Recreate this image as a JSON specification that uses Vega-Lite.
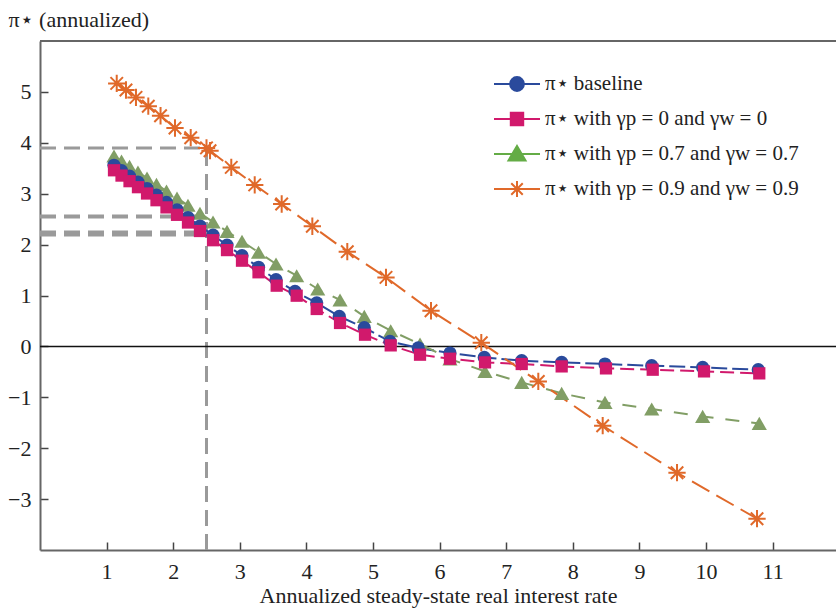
{
  "$schema": "https://vega.github.io/schema/vega-lite/v6.json",
  "width": 796,
  "height": 509,
  "autosize": {"type": "none"},
  "padding": {"left": 40, "top": 41, "right": 0, "bottom": 59},
  "background": "white",
  "config": {
    "view": {"stroke": null},
    "font": "Liberation Serif, Times New Roman, serif",
    "axis": {
      "grid": false,
      "domainColor": "#666666",
      "domainWidth": 2,
      "tickColor": "#444444",
      "tickWidth": 1.5,
      "tickSize": -8,
      "labelFont": "Liberation Serif, Times New Roman, serif",
      "labelFontSize": 22,
      "labelColor": "#222222",
      "titleFont": "Liberation Serif, Times New Roman, serif",
      "titleFontSize": 22,
      "titleFontWeight": "normal",
      "titleColor": "#222222"
    }
  },
  "datasets": {
    "curves": [
      {"series": "π⋆ baseline", "x": 1.111, "y": 3.558},
      {"series": "π⋆ baseline", "x": 1.224, "y": 3.454},
      {"series": "π⋆ baseline", "x": 1.344, "y": 3.344},
      {"series": "π⋆ baseline", "x": 1.471, "y": 3.226},
      {"series": "π⋆ baseline", "x": 1.607, "y": 3.102},
      {"series": "π⋆ baseline", "x": 1.749, "y": 2.971},
      {"series": "π⋆ baseline", "x": 1.899, "y": 2.829},
      {"series": "π⋆ baseline", "x": 2.057, "y": 2.684},
      {"series": "π⋆ baseline", "x": 2.222, "y": 2.532},
      {"series": "π⋆ baseline", "x": 2.402, "y": 2.365},
      {"series": "π⋆ baseline", "x": 2.598, "y": 2.185},
      {"series": "π⋆ baseline", "x": 2.808, "y": 1.99},
      {"series": "π⋆ baseline", "x": 3.033, "y": 1.782},
      {"series": "π⋆ baseline", "x": 3.281, "y": 1.554},
      {"series": "π⋆ baseline", "x": 3.544, "y": 1.31},
      {"series": "π⋆ baseline", "x": 3.829, "y": 1.081},
      {"series": "π⋆ baseline", "x": 4.155, "y": 0.853},
      {"series": "π⋆ baseline", "x": 4.494, "y": 0.589},
      {"series": "π⋆ baseline", "x": 4.869, "y": 0.367},
      {"series": "π⋆ baseline", "x": 5.255, "y": 0.098},
      {"series": "π⋆ baseline", "x": 5.68, "y": -0.03},
      {"series": "π⋆ baseline", "x": 6.156, "y": -0.13},
      {"series": "π⋆ baseline", "x": 6.671, "y": -0.216},
      {"series": "π⋆ baseline", "x": 7.233, "y": -0.281},
      {"series": "π⋆ baseline", "x": 7.833, "y": -0.314},
      {"series": "π⋆ baseline", "x": 8.483, "y": -0.346},
      {"series": "π⋆ baseline", "x": 9.185, "y": -0.379},
      {"series": "π⋆ baseline", "x": 9.95, "y": -0.413},
      {"series": "π⋆ baseline", "x": 10.785, "y": -0.458},
      {"series": "π⋆ with γp = 0 and γw = 0", "x": 1.111, "y": 3.46},
      {"series": "π⋆ with γp = 0 and γw = 0", "x": 1.224, "y": 3.356},
      {"series": "π⋆ with γp = 0 and γw = 0", "x": 1.344, "y": 3.246},
      {"series": "π⋆ with γp = 0 and γw = 0", "x": 1.471, "y": 3.128},
      {"series": "π⋆ with γp = 0 and γw = 0", "x": 1.607, "y": 3.004},
      {"series": "π⋆ with γp = 0 and γw = 0", "x": 1.749, "y": 2.872},
      {"series": "π⋆ with γp = 0 and γw = 0", "x": 1.899, "y": 2.731},
      {"series": "π⋆ with γp = 0 and γw = 0", "x": 2.057, "y": 2.585},
      {"series": "π⋆ with γp = 0 and γw = 0", "x": 2.222, "y": 2.434},
      {"series": "π⋆ with γp = 0 and γw = 0", "x": 2.402, "y": 2.267},
      {"series": "π⋆ with γp = 0 and γw = 0", "x": 2.598, "y": 2.086},
      {"series": "π⋆ with γp = 0 and γw = 0", "x": 2.808, "y": 1.892},
      {"series": "π⋆ with γp = 0 and γw = 0", "x": 3.033, "y": 1.684},
      {"series": "π⋆ with γp = 0 and γw = 0", "x": 3.281, "y": 1.456},
      {"series": "π⋆ with γp = 0 and γw = 0", "x": 3.554, "y": 1.193},
      {"series": "π⋆ with γp = 0 and γw = 0", "x": 3.854, "y": 0.996},
      {"series": "π⋆ with γp = 0 and γw = 0", "x": 4.155, "y": 0.735},
      {"series": "π⋆ with γp = 0 and γw = 0", "x": 4.505, "y": 0.46},
      {"series": "π⋆ with γp = 0 and γw = 0", "x": 4.88, "y": 0.23},
      {"series": "π⋆ with γp = 0 and γw = 0", "x": 5.266, "y": 0.02},
      {"series": "π⋆ with γp = 0 and γw = 0", "x": 5.706, "y": -0.163},
      {"series": "π⋆ with γp = 0 and γw = 0", "x": 6.156, "y": -0.242},
      {"series": "π⋆ with γp = 0 and γw = 0", "x": 6.682, "y": -0.314},
      {"series": "π⋆ with γp = 0 and γw = 0", "x": 7.233, "y": -0.346},
      {"series": "π⋆ with γp = 0 and γw = 0", "x": 7.833, "y": -0.393},
      {"series": "π⋆ with γp = 0 and γw = 0", "x": 8.498, "y": -0.432},
      {"series": "π⋆ with γp = 0 and γw = 0", "x": 9.2, "y": -0.458},
      {"series": "π⋆ with γp = 0 and γw = 0", "x": 9.97, "y": -0.491},
      {"series": "π⋆ with γp = 0 and γw = 0", "x": 10.8, "y": -0.53},
      {"series": "π⋆ with γp = 0.7 and γw = 0.7", "x": 1.111, "y": 3.741},
      {"series": "π⋆ with γp = 0.7 and γw = 0.7", "x": 1.224, "y": 3.642},
      {"series": "π⋆ with γp = 0.7 and γw = 0.7", "x": 1.344, "y": 3.537},
      {"series": "π⋆ with γp = 0.7 and γw = 0.7", "x": 1.471, "y": 3.426},
      {"series": "π⋆ with γp = 0.7 and γw = 0.7", "x": 1.607, "y": 3.308},
      {"series": "π⋆ with γp = 0.7 and γw = 0.7", "x": 1.749, "y": 3.184},
      {"series": "π⋆ with γp = 0.7 and γw = 0.7", "x": 1.899, "y": 3.053},
      {"series": "π⋆ with γp = 0.7 and γw = 0.7", "x": 2.057, "y": 2.916},
      {"series": "π⋆ with γp = 0.7 and γw = 0.7", "x": 2.222, "y": 2.772},
      {"series": "π⋆ with γp = 0.7 and γw = 0.7", "x": 2.402, "y": 2.615},
      {"series": "π⋆ with γp = 0.7 and γw = 0.7", "x": 2.598, "y": 2.444},
      {"series": "π⋆ with γp = 0.7 and γw = 0.7", "x": 2.808, "y": 2.261},
      {"series": "π⋆ with γp = 0.7 and γw = 0.7", "x": 3.033, "y": 2.065},
      {"series": "π⋆ with γp = 0.7 and γw = 0.7", "x": 3.281, "y": 1.849},
      {"series": "π⋆ with γp = 0.7 and γw = 0.7", "x": 3.544, "y": 1.619},
      {"series": "π⋆ with γp = 0.7 and γw = 0.7", "x": 3.854, "y": 1.389},
      {"series": "π⋆ with γp = 0.7 and γw = 0.7", "x": 4.17, "y": 1.128},
      {"series": "π⋆ with γp = 0.7 and γw = 0.7", "x": 4.505, "y": 0.912},
      {"series": "π⋆ with γp = 0.7 and γw = 0.7", "x": 4.869, "y": 0.589},
      {"series": "π⋆ with γp = 0.7 and γw = 0.7", "x": 5.266, "y": 0.308},
      {"series": "π⋆ with γp = 0.7 and γw = 0.7", "x": 5.706, "y": 0.047},
      {"series": "π⋆ with γp = 0.7 and γw = 0.7", "x": 6.156, "y": -0.248},
      {"series": "π⋆ with γp = 0.7 and γw = 0.7", "x": 6.682, "y": -0.491},
      {"series": "π⋆ with γp = 0.7 and γw = 0.7", "x": 7.233, "y": -0.707},
      {"series": "π⋆ with γp = 0.7 and γw = 0.7", "x": 7.833, "y": -0.923},
      {"series": "π⋆ with γp = 0.7 and γw = 0.7", "x": 8.483, "y": -1.1},
      {"series": "π⋆ with γp = 0.7 and γw = 0.7", "x": 9.185, "y": -1.23},
      {"series": "π⋆ with γp = 0.7 and γw = 0.7", "x": 9.95, "y": -1.375},
      {"series": "π⋆ with γp = 0.7 and γw = 0.7", "x": 10.8, "y": -1.513},
      {"series": "π⋆ with γp = 0.9 and γw = 0.9", "x": 1.152, "y": 5.167},
      {"series": "π⋆ with γp = 0.9 and γw = 0.9", "x": 1.291, "y": 5.037},
      {"series": "π⋆ with γp = 0.9 and γw = 0.9", "x": 1.441, "y": 4.892},
      {"series": "π⋆ with γp = 0.9 and γw = 0.9", "x": 1.626, "y": 4.719},
      {"series": "π⋆ with γp = 0.9 and γw = 0.9", "x": 1.81, "y": 4.532},
      {"series": "π⋆ with γp = 0.9 and γw = 0.9", "x": 2.027, "y": 4.291},
      {"series": "π⋆ with γp = 0.9 and γw = 0.9", "x": 2.263, "y": 4.1},
      {"series": "π⋆ with γp = 0.9 and γw = 0.9", "x": 2.5, "y": 3.9},
      {"series": "π⋆ with γp = 0.9 and γw = 0.9", "x": 2.553, "y": 3.845},
      {"series": "π⋆ with γp = 0.9 and γw = 0.9", "x": 2.872, "y": 3.517},
      {"series": "π⋆ with γp = 0.9 and γw = 0.9", "x": 3.224, "y": 3.173},
      {"series": "π⋆ with γp = 0.9 and γw = 0.9", "x": 3.629, "y": 2.798},
      {"series": "π⋆ with γp = 0.9 and γw = 0.9", "x": 4.089, "y": 2.361},
      {"series": "π⋆ with γp = 0.9 and γw = 0.9", "x": 4.614, "y": 1.861},
      {"series": "π⋆ with γp = 0.9 and γw = 0.9", "x": 5.195, "y": 1.356},
      {"series": "π⋆ with γp = 0.9 and γw = 0.9", "x": 5.871, "y": 0.701},
      {"series": "π⋆ with γp = 0.9 and γw = 0.9", "x": 6.626, "y": 0.073},
      {"series": "π⋆ with γp = 0.9 and γw = 0.9", "x": 7.482, "y": -0.688},
      {"series": "π⋆ with γp = 0.9 and γw = 0.9", "x": 8.449, "y": -1.558},
      {"series": "π⋆ with γp = 0.9 and γw = 0.9", "x": 9.565, "y": -2.481},
      {"series": "π⋆ with γp = 0.9 and γw = 0.9", "x": 10.766, "y": -3.385}
    ],
    "guides": [
      {"guide": "vertical", "x_from": 2.5, "x_to": 2.5, "y_from": -4, "y_to": 3.9},
      {"guide": "g09", "x_from": 0, "x_to": 2.5, "y_from": 3.9, "y_to": 3.9},
      {"guide": "g07", "x_from": 0, "x_to": 2.5, "y_from": 2.55, "y_to": 2.55},
      {"guide": "base", "x_from": 0, "x_to": 2.5, "y_from": 2.22, "y_to": 2.22}
    ],
    "frame": [{"edge": "top", "y": 6}, {"edge": "zero", "y": 0}]
  },
  "layer": [
    {
      "data": {"name": "frame"},
      "transform": [{"filter": "datum.edge == 'top'"}],
      "mark": {"type": "rule", "color": "#666666", "strokeWidth": 2},
      "encoding": {"y": {"field": "y", "type": "quantitative", "scale": {"domain": [-4, 6], "nice": false, "zero": false}}}
    },
    {
      "data": {"name": "guides"},
      "transform": [{"filter": "datum.guide == 'vertical' || datum.guide == 'g09'"}],
      "mark": {"type": "rule", "color": "#9a9a9a", "strokeWidth": 3, "strokeDash": [16, 8]},
      "encoding": {
        "x": {"field": "x_from", "type": "quantitative"},
        "x2": {"field": "x_to"},
        "y": {"field": "y_from", "type": "quantitative"},
        "y2": {"field": "y_to"}
      }
    },
    {
      "data": {"name": "guides"},
      "transform": [{"filter": "datum.guide == 'g07'"}],
      "mark": {"type": "rule", "color": "#9a9a9a", "strokeWidth": 4, "strokeDash": [16, 8]},
      "encoding": {
        "x": {"field": "x_from", "type": "quantitative"},
        "x2": {"field": "x_to"},
        "y": {"field": "y_from", "type": "quantitative"},
        "y2": {"field": "y_to"}
      }
    },
    {
      "data": {"name": "guides"},
      "transform": [{"filter": "datum.guide == 'base'"}],
      "mark": {"type": "rule", "color": "#9a9a9a", "strokeWidth": 6, "strokeDash": [16, 8]},
      "encoding": {
        "x": {"field": "x_from", "type": "quantitative"},
        "x2": {"field": "x_to"},
        "y": {"field": "y_from", "type": "quantitative"},
        "y2": {"field": "y_to"}
      }
    },
    {
      "data": {"name": "frame"},
      "transform": [{"filter": "datum.edge == 'zero'"}],
      "mark": {"type": "rule", "color": "#111111", "strokeWidth": 1.5},
      "encoding": {"y": {"field": "y", "type": "quantitative"}}
    },
    {
      "data": {"name": "curves"},
      "transform": [{"filter": "datum.series == 'π⋆ baseline'"}],
      "mark": {"type": "line", "color": "#2A4A9C", "strokeWidth": 2, "strokeDash": [16, 5]},
      "encoding": {
        "x": {
          "field": "x", "type": "quantitative",
          "scale": {"domain": [0, 11.952], "nice": false, "zero": false},
          "axis": {
            "values": [1, 2, 3, 4, 5, 6, 7, 8, 9, 10, 11],
            "format": "d",
            "title": "Annualized steady-state real interest rate",
            "labelPadding": 19,
            "titlePadding": 3
          }
        },
        "y": {
          "field": "y", "type": "quantitative",
          "axis": {
            "values": [-3, -2, -1, 0, 1, 2, 3, 4, 5],
            "format": "d",
            "title": "π⋆ (annualized)",
            "titleAngle": 0,
            "titleAlign": "left",
            "titleBaseline": "middle",
            "titleX": -32,
            "titleY": -22,
            "labelPadding": 17
          }
        },
        "order": {"field": "x", "type": "quantitative"}
      }
    },
    {
      "data": {"name": "curves"},
      "transform": [{"filter": "datum.series == 'π⋆ with γp = 0 and γw = 0'"}],
      "mark": {"type": "line", "color": "#D1196C", "strokeWidth": 2, "strokeDash": [14, 6]},
      "encoding": {
        "x": {"field": "x", "type": "quantitative"},
        "y": {"field": "y", "type": "quantitative"},
        "order": {"field": "x", "type": "quantitative"}
      }
    },
    {
      "data": {"name": "curves"},
      "transform": [{"filter": "datum.series == 'π⋆ with γp = 0.7 and γw = 0.7'"}],
      "mark": {"type": "line", "color": "#819E65", "strokeWidth": 2, "strokeDash": [14, 12]},
      "encoding": {
        "x": {"field": "x", "type": "quantitative"},
        "y": {"field": "y", "type": "quantitative"},
        "order": {"field": "x", "type": "quantitative"}
      }
    },
    {
      "data": {"name": "curves"},
      "transform": [{"filter": "datum.series == 'π⋆ with γp = 0.9 and γw = 0.9'"}],
      "mark": {"type": "line", "color": "#E0692A", "strokeWidth": 2, "strokeDash": [20, 8]},
      "encoding": {
        "x": {"field": "x", "type": "quantitative"},
        "y": {"field": "y", "type": "quantitative"},
        "order": {"field": "x", "type": "quantitative"}
      }
    },
    {
      "data": {"name": "curves"},
      "transform": [{"filter": "datum.series == 'π⋆ with γp = 0.7 and γw = 0.7'"}],
      "mark": {"type": "point", "shape": "triangle-up", "filled": true, "opacity": 1, "color": "#819E65", "size": 230},
      "encoding": {
        "x": {"field": "x", "type": "quantitative"},
        "y": {"field": "y", "type": "quantitative"}
      }
    },
    {
      "data": {"name": "curves"},
      "transform": [{"filter": "datum.series == 'π⋆ baseline'"}],
      "mark": {"type": "point", "shape": "circle", "filled": true, "opacity": 1, "color": "#2A4A9C", "size": 175},
      "encoding": {
        "x": {"field": "x", "type": "quantitative"},
        "y": {"field": "y", "type": "quantitative"}
      }
    },
    {
      "data": {"name": "curves"},
      "transform": [{"filter": "datum.series == 'π⋆ with γp = 0 and γw = 0'"}],
      "mark": {"type": "point", "shape": "square", "filled": true, "opacity": 1, "color": "#D1196C", "size": 150},
      "encoding": {
        "x": {"field": "x", "type": "quantitative"},
        "y": {"field": "y", "type": "quantitative"}
      }
    },
    {
      "data": {"name": "curves"},
      "transform": [{"filter": "datum.series == 'π⋆ with γp = 0.9 and γw = 0.9'"}],
      "mark": {"type": "point", "shape": "M-1,0L1,0M0,-1L0,1M-0.72,-0.72L0.72,0.72M-0.72,0.72L0.72,-0.72", "filled": false, "opacity": 1, "stroke": "#E0692A", "strokeWidth": 2, "size": 300},
      "encoding": {
        "x": {"field": "x", "type": "quantitative"},
        "y": {"field": "y", "type": "quantitative"}
      }
    },
    {
      "data": {"name": "curves"},
      "mark": {"type": "point", "filled": true, "opacity": 0, "strokeWidth": 2, "size": 2116},
      "encoding": {
        "x": {"field": "x", "type": "quantitative"},
        "y": {"field": "y", "type": "quantitative"},
        "fill": {
          "field": "series", "type": "nominal",
          "scale": {
            "domain": ["π⋆ baseline", "π⋆ with γp = 0 and γw = 0", "π⋆ with γp = 0.7 and γw = 0.7", "π⋆ with γp = 0.9 and γw = 0.9"],
            "range": ["#2A4A9C", "#D1196C", "#64AC46", "#E0692A"]
          },
          "legend": {
            "orient": "none", "legendX": 453, "legendY": 19, "title": null,
            "symbolSize": 2116, "symbolStrokeWidth": 2, "symbolOpacity": 1,
            "labelFont": "Liberation Serif, Times New Roman, serif", "labelFontSize": 21, "labelColor": "#222222",
            "labelOffset": 4, "labelLimit": 400, "rowPadding": 0
          }
        },
        "stroke": {
          "field": "series", "type": "nominal",
          "scale": {
            "domain": ["π⋆ baseline", "π⋆ with γp = 0 and γw = 0", "π⋆ with γp = 0.7 and γw = 0.7", "π⋆ with γp = 0.9 and γw = 0.9"],
            "range": ["#2A4A9C", "#D1196C", "#64AC46", "#E0692A"]
          },
          "legend": {
            "orient": "none", "legendX": 453, "legendY": 19, "title": null,
            "symbolSize": 2116, "symbolStrokeWidth": 2, "symbolOpacity": 1,
            "labelFont": "Liberation Serif, Times New Roman, serif", "labelFontSize": 21, "labelColor": "#222222",
            "labelOffset": 4, "labelLimit": 400, "rowPadding": 0
          }
        },
        "shape": {
          "field": "series", "type": "nominal",
          "scale": {
            "domain": ["π⋆ baseline", "π⋆ with γp = 0 and γw = 0", "π⋆ with γp = 0.7 and γw = 0.7", "π⋆ with γp = 0.9 and γw = 0.9"],
            "range": [
              "M-1,0L1,0M-0.3,0A0.3,0.3 0 1,0 0.3,0A0.3,0.3 0 1,0 -0.3,0Z",
              "M-1,0L1,0M-0.27,-0.27L0.27,-0.27L0.27,0.27L-0.27,0.27Z",
              "M-1,0L1,0M0,-0.35L0.37,0.28L-0.37,0.28Z",
              "M-1,0L1,0M0,-0.35L0,0.35M-0.25,-0.25L0.25,0.25M-0.25,0.25L0.25,-0.25"
            ]
          },
          "legend": {
            "orient": "none", "legendX": 453, "legendY": 19, "title": null,
            "symbolSize": 2116, "symbolStrokeWidth": 2, "symbolOpacity": 1,
            "labelFont": "Liberation Serif, Times New Roman, serif", "labelFontSize": 21, "labelColor": "#222222",
            "labelOffset": 4, "labelLimit": 400, "rowPadding": 0
          }
        }
      }
    }
  ]
}
